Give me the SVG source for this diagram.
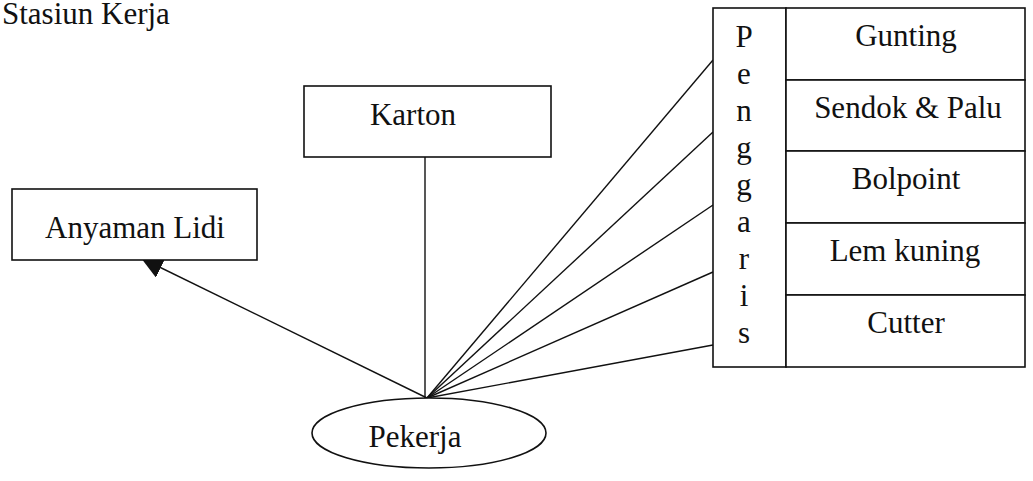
<svg xmlns="http://www.w3.org/2000/svg" width="1033" height="481" viewBox="0 0 1033 481">
<style>
text{font-family:"Liberation Serif","Times New Roman",serif;font-size:31px;fill:#111}
.box{fill:#fff;stroke:#111;stroke-width:1.6}
.ln{stroke:#111;stroke-width:1.4;fill:none}
.mid{text-anchor:middle}
</style>
<defs>
<marker id="arrH" viewBox="0 0 10 10" refX="9" refY="5" markerWidth="22" markerHeight="22" markerUnits="userSpaceOnUse" orient="auto">
<path d="M0,0 L10,5 L0,10 Z" fill="#111"/>
</marker>
</defs>
<rect width="1033" height="481" fill="#fff"/>
<text x="2" y="24" font-size="24">Stasiun Kerja</text>
<g id="connectors">
<line class="ln" x1="425" y1="157" x2="425" y2="398"/>
<line class="ln" x1="427" y1="398" x2="143" y2="259" marker-end="url(#arrH)"/>
<line class="ln" x1="427" y1="398" x2="713" y2="60"/>
<line class="ln" x1="427" y1="398" x2="713" y2="132"/>
<line class="ln" x1="427" y1="398" x2="713" y2="205"/>
<line class="ln" x1="427" y1="398" x2="713" y2="272"/>
<line class="ln" x1="427" y1="398" x2="713" y2="345"/>
</g>
<g id="karton">
<rect class="box" x="304" y="86" width="247" height="71"/>
<text class="mid" x="413" y="125">Karton</text>
</g>
<g id="anyaman">
<rect class="box" x="12" y="189" width="245" height="71"/>
<text class="mid" x="135" y="238">Anyaman Lidi</text>
</g>
<g id="pekerja">
<ellipse class="box" cx="429" cy="433" rx="117" ry="35"/>
<text class="mid" x="415" y="447">Pekerja</text>
</g>
<g id="penggaris">
<rect class="box" x="713" y="8" width="73" height="359"/>
<text class="mid" x="744" y="47">P</text>
<text class="mid" x="744" y="84">e</text>
<text class="mid" x="744" y="121">n</text>
<text class="mid" x="744" y="158">g</text>
<text class="mid" x="744" y="195">g</text>
<text class="mid" x="744" y="232">a</text>
<text class="mid" x="744" y="269">r</text>
<text class="mid" x="744" y="306">i</text>
<text class="mid" x="744" y="343">s</text>
</g>
<g id="gunting">
<rect class="box" x="786" y="8" width="239" height="72"/>
<text class="mid" x="906" y="46">Gunting</text>
</g>
<g id="sendok">
<rect class="box" x="786" y="80" width="239" height="71"/>
<text class="mid" x="908" y="118" font-size="32">Sendok &amp; Palu</text>
</g>
<g id="bolpoint">
<rect class="box" x="786" y="151" width="239" height="72"/>
<text class="mid" x="906" y="189">Bolpoint</text>
</g>
<g id="lem">
<rect class="box" x="786" y="223" width="239" height="72"/>
<text class="mid" x="905" y="261">Lem kuning</text>
</g>
<g id="cutter">
<rect class="box" x="786" y="295" width="239" height="72"/>
<text class="mid" x="906" y="333">Cutter</text>
</g>
</svg>
